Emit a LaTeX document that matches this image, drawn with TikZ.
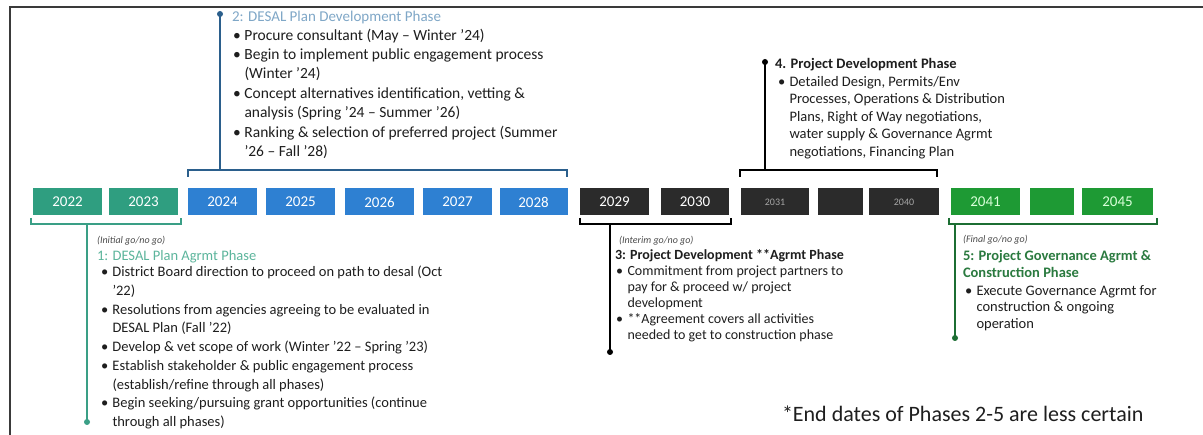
\documentclass[tikz,border=0pt]{standalone}
\usepackage{fontspec}
\setmainfont{Carlito}
\definecolor{tealbox}{HTML}{2F9E80}
\definecolor{tealline}{HTML}{3A9F86}
\definecolor{tealtitle}{HTML}{5CB59C}
\definecolor{bluebox}{HTML}{2E80D2}
\definecolor{blueline}{HTML}{2B5F8C}
\definecolor{bluetitle}{HTML}{7FA7C7}
\definecolor{darkbox}{HTML}{2B2B2B}
\definecolor{greenbox}{HTML}{1E9A34}
\definecolor{greenline}{HTML}{1C6E33}
\definecolor{greentitle}{HTML}{2A7A3F}
\definecolor{txt}{HTML}{1E1E1E}
\definecolor{framec}{HTML}{3A3A3A}
\newcommand{\bul}{\makebox[11.5pt][l]{\textbullet}}
\newcommand{\cnt}{\hspace*{11.5pt}}
\begin{document}
\begin{tikzpicture}[x=1pt,y=-1pt,
  every node/.style={inner sep=0pt,outer sep=0pt},
  yb/.style={minimum height=27pt,text=white,font=\fontsize{15}{18}\selectfont},
  brk/.style={line width=1.4pt},
  stem/.style={line width=2.4pt},
  txtblk/.style={align=left,anchor=north west,text=txt},
  note/.style={anchor=west,text=txt!80,font=\fontsize{10}{12}\selectfont\itshape}]
\useasboundingbox (0,0) rectangle (1203,435);
\fill[white] (0,0) rectangle (1203,435);
\draw[framec,line width=1.8pt] (10,435) -- (10,7) -- (1203,7);

% year boxes
\node[yb,fill=tealbox,minimum width=69pt] (y2022) at (67.5,202) {2022};
\node[yb,fill=tealbox,minimum width=69pt] (y2023) at (143.5,202) {2023};
\node[yb,fill=bluebox,minimum width=69pt] (y2024) at (222.5,202) {2024};
\node[yb,fill=bluebox,minimum width=69pt] (y2025) at (300.5,202) {2025};
\node[yb,fill=bluebox,minimum width=69pt] (y2026) at (379.5,202) {2026};
\node[yb,fill=bluebox,minimum width=69pt] (y2027) at (457.5,202) {2027};
\node[yb,fill=bluebox,minimum width=68pt] (y2028) at (533.5,202) {2028};
\node[yb,fill=darkbox,minimum width=69pt] (y2029) at (614.5,202) {2029};
\node[yb,fill=darkbox,minimum width=68pt] (y2030) at (695,202) {2030};
\node[yb,fill=darkbox,minimum width=68pt,text=gray!70,font=\fontsize{10}{12}\selectfont] (y2031) at (775,202) {2031};
\node[yb,fill=darkbox,minimum width=45pt] (yb1) at (840.5,202) {};
\node[yb,fill=darkbox,minimum width=70pt,text=gray!70,font=\fontsize{10}{12}\selectfont] (y2040) at (904,202) {2040};
\node[yb,fill=greenbox,minimum width=69pt,text=green!15] (y2041) at (985.5,202) {2041};
\node[yb,fill=greenbox,minimum width=44pt] (yb2) at (1052,202) {};
\node[yb,fill=greenbox,minimum width=71pt,text=green!15] (y2045) at (1117.5,202) {2045};

% phase 1
\draw[brk,tealline] (31,218) -- (31,224) -- (181,224) -- (181,218);
\coordinate (p1a) at (87,224);
\coordinate (p1b) at (87,422);
\draw[stem,tealline] (p1a) -- (p1b);
\fill[tealline] (p1b) circle (3pt);
\node[note] (p1note) at (97,241) {(Initial go/no go)};
\node[anchor=west,text=tealtitle,font=\fontsize{14.5}{17}\selectfont] (p1title) at (97,257) {1: DESAL Plan Agrmt Phase};
\node[txtblk,font=\fontsize{14.5}{18.75}\selectfont] (p1list) at (101,266) {%
\bul District Board direction to proceed on path to desal (Oct\\
\cnt '22)\\
\bul Resolutions from agencies agreeing to be evaluated in\\
\cnt DESAL Plan (Fall '22)\\
\bul Develop \& vet scope of work (Winter '22 -- Spring '23)\\
\bul Establish stakeholder \& public engagement process\\
\cnt (establish/refine through all phases)\\
\bul Begin seeking/pursuing grant opportunities (continue\\
\cnt through all phases)};

% phase 2
\draw[brk,blueline] (188,177) -- (188,170) -- (567,170) -- (567,177);
\coordinate (p2a) at (220,170);
\coordinate (p2b) at (220,14);
\draw[stem,blueline] (p2a) -- (p2b);
\fill[blueline] (p2b) circle (3pt);
\node[anchor=west,text=bluetitle,font=\fontsize{15}{19}\selectfont] (p2title) at (232,18) {2: DESAL Plan Development Phase};
\node[txtblk,font=\fontsize{15.5}{19.4}\selectfont] (p2list) at (233,28.7) {%
\bul Procure consultant (May -- Winter '24)\\
\bul Begin to implement public engagement process\\
\cnt (Winter '24)\\
\bul Concept alternatives identification, vetting \&\\
\cnt analysis (Spring '24 -- Summer '26)\\
\bul Ranking \& selection of preferred project (Summer\\
\cnt '26 -- Fall '28)};

% phase 3
\draw[brk,black] (580,218) -- (580,224) -- (731,224) -- (731,218);
\coordinate (p3a) at (610,224);
\coordinate (p3b) at (610,352);
\draw[stem,black] (p3a) -- (p3b);
\fill[black] (p3b) circle (3pt);
\node[note] (p3note) at (619,241) {(Interim go/no go)};
\node[anchor=west,text=txt,font=\fontsize{14}{16}\selectfont\bfseries] (p3title) at (615,256) {3: Project Development **Agrmt Phase};
\node[txtblk,font=\fontsize{14}{16}\selectfont] (p3list) at (616,265.5) {%
\bul Commitment from project partners to\\
\cnt pay for \& proceed w/ project\\
\cnt development\\
\bul **Agreement covers all activities\\
\cnt needed to get to construction phase};

% phase 4
\draw[brk,black] (740,177) -- (740,170) -- (937,170) -- (937,177);
\coordinate (p4a) at (765,170);
\coordinate (p4b) at (765,62);
\draw[stem,black] (p4a) -- (p4b);
\fill[black] (p4b) circle (3pt);
\node[anchor=west,text=txt,font=\fontsize{14.5}{17}\selectfont\bfseries] (p4title) at (775,65) {4. Project Development Phase};
\node[txtblk,font=\fontsize{14.5}{17.5}\selectfont] (p4list) at (778,76.2) {%
\bul Detailed Design, Permits/Env\\
\cnt Processes, Operations \& Distribution\\
\cnt Plans, Right of Way negotiations,\\
\cnt water supply \& Governance Agrmt\\
\cnt negotiations, Financing Plan};

% phase 5
\draw[brk,greenline] (949,218) -- (949,224) -- (1157,224) -- (1157,218);
\coordinate (p5a) at (955,224);
\coordinate (p5b) at (955,338);
\draw[stem,greenline] (p5a) -- (p5b);
\fill[greenline] (p5b) circle (3pt);
\node[note] (p5note) at (963,240) {(Final go/no go)};
\node[txtblk,text=greentitle,font=\fontsize{14.5}{17}\selectfont\bfseries] (p5title) at (963,250) {5: Project Governance Agrmt \&\\Construction Phase};
\node[txtblk,font=\fontsize{14.5}{16.5}\selectfont] (p5list) at (965,285.5) {%
\bul Execute Governance Agrmt for\\
\cnt construction \& ongoing\\
\cnt operation};

% end note
\node[anchor=west,text=txt,font=\fontsize{22}{26}\selectfont] (endnote) at (782,414) {*End dates of Phases 2-5 are less certain};
\end{tikzpicture}
\end{document}
